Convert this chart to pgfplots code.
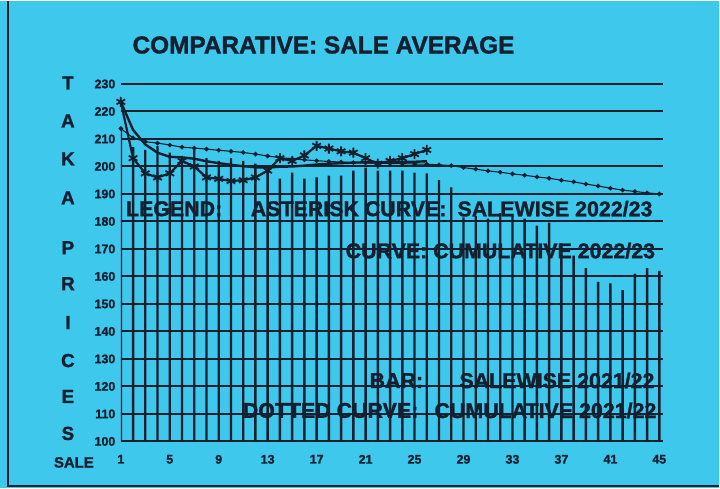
\documentclass[border=0pt]{standalone}
\usepackage{fontspec}
\setmainfont{Liberation Sans}
\newfontfamily\heavy{Liberation Sans Bold}[FakeBold=1.4]
\usepackage{graphicx}
\usepackage{pgfplots}
\usepackage{pgfplotstable}
\pgfplotsset{compat=1.18}
\definecolor{bg}{RGB}{62,200,236}
\definecolor{ink}{RGB}{20,32,48}

\pgfplotstableread{
k v
1 213.8
2 207
3 206
4 207.5
5 205
6 203
7 206
8 203
9 202
10 203
11 202
12 201
13 198.5
14 195.6
15 197.8
16 195.6
17 196
18 196.7
19 196.7
20 198.5
21 199.6
22 198.5
23 198.5
24 198.5
25 197.8
26 197.5
27 195
28 192.4
29 181.5
30 182
31 181
32 183
33 182
34 181
35 178.5
36 179.6
37 172
38 167.6
39 163
40 158
41 157.5
42 155
43 161
44 163
45 162
}\bars

\pgfplotstableread{
k v
1 213.8
2 210.4
3 209
4 208.5
5 207.8
6 207
7 206.7
8 206.3
9 205.9
10 205.5
11 205.1
12 204.5
13 203.8
14 203.2
15 202.8
16 202.4
17 202.1
18 201.8
19 201.6
20 201.4
21 201.3
22 201.2
23 201.1
24 201.0
25 200.9
26 200.8
27 200.6
28 200.3
29 199.6
30 199.0
31 198.4
32 197.9
33 197.3
34 196.8
35 196.2
36 195.7
37 195.0
38 194.4
39 193.6
40 192.9
41 192.1
42 191.4
43 190.9
44 190.4
45 190.0
}\cumold

\pgfplotstableread{
k v
1 223.5
2 203
3 197.5
4 196
5 197.5
6 202
7 200
8 196
9 195.5
10 194.7
11 195
12 196
13 198.5
14 203
15 202
16 204
17 207.5
18 206.5
19 205.5
20 205
21 203
22 201
23 202
24 203
25 204.5
26 206
}\salenew

\pgfplotstableread{
k v
1 223.5
2 213.3
3 208
4 205
5 203.5
6 203.3
7 202.8
8 201.9
9 201.2
10 200.6
11 200.1
12 199.7
13 199.6
14 199.9
15 200.0
16 200.3
17 200.7
18 201.0
19 201.2
20 201.4
21 201.5
22 201.5
23 201.5
24 201.6
25 201.7
26 201.9
}\cumnew

\begin{document}
\begin{tikzpicture}
\fill[bg] (0,0) rectangle (720bp,488bp);
\draw[ink, line width=2.2bp] (8bp,488bp) -- (8bp,2bp) -- (720bp,2bp);
\begin{axis}[
  at={(121bp,47bp)}, anchor=south west,
  scale only axis, width=543bp, height=358bp,
  xmin=1, xmax=45.3, ymin=100, ymax=230,
  axis line style={draw=none}, major tick length=0pt,
  xtick={1,5,9,13,17,21,25,29,33,37,41,45},
  xticklabels={1,5,9,13,17,21,25,29,33,37,41,45},
  ytick={100,110,120,130,140,150,160,170,180,190,200,210,220,230},
  yticklabels={100,110,120,130,140,150,160,170,180,190,200,210,220,230},
  ymajorgrids, grid style={ink, line width=2bp},
  ticklabel style={font=\fontsize{12.5}{12.5}\heavy, text=ink},
  xticklabel style={yshift=-10bp},
  yticklabel style={xshift=-2bp},
  clip mode=individual,
]
\addplot[ybar, bar width=2.4bp, bar shift=0pt, fill=ink, draw=none] table[x=k,y=v]{\bars};
\addplot[ink, line width=1.1bp, mark=*, mark size=1.7bp] table[x=k,y=v]{\cumold};
\addplot[ink, line width=2.4bp, no marks] table[x=k,y=v]{\cumnew};
\addplot[ink, line width=2.2bp, mark=asterisk, mark size=5bp, mark options={line width=1.8bp}] table[x=k,y=v]{\salenew};
\end{axis}
% title
\node[text=ink, anchor=center] at (324bp,444bp) {\fontsize{24.5}{24.5}\heavy COMPARATIVE: SALE AVERAGE};
% y label letters
\foreach \l/\yy in {T/406,A/368,K/330,A/291,P/241,R/205,I/166,C/128,E/92,S/55}
  \node[text=ink, anchor=center] at (68bp,\yy bp) {\fontsize{19}{19}\heavy \l};
% x label
\node[text=ink, anchor=center] at (74bp,26bp) {\fontsize{15}{15}\heavy SALE};
% legend texts
\begin{scope}[every node/.style={text=ink, anchor=west, inner sep=0pt, font=\fontsize{21.5}{21.5}\heavy}]
\node at (126bp,280bp) {LEGEND:};
\node at (251bp,280bp) {ASTERISK CURVE:};
\node at (458bp,280bp) {SALEWISE 2022/23};
\node at (346bp,238bp) {CURVE: CUMULATIVE 2022/23};
\node at (370bp,108bp) {BAR:};
\node at (460bp,108bp) {SALEWISE 2021/22};
\node at (243bp,78bp) {DOTTED CURVE:};
\node at (435bp,78bp) {CUMULATIVE 2021/22};
\end{scope}
\end{tikzpicture}
\end{document}
